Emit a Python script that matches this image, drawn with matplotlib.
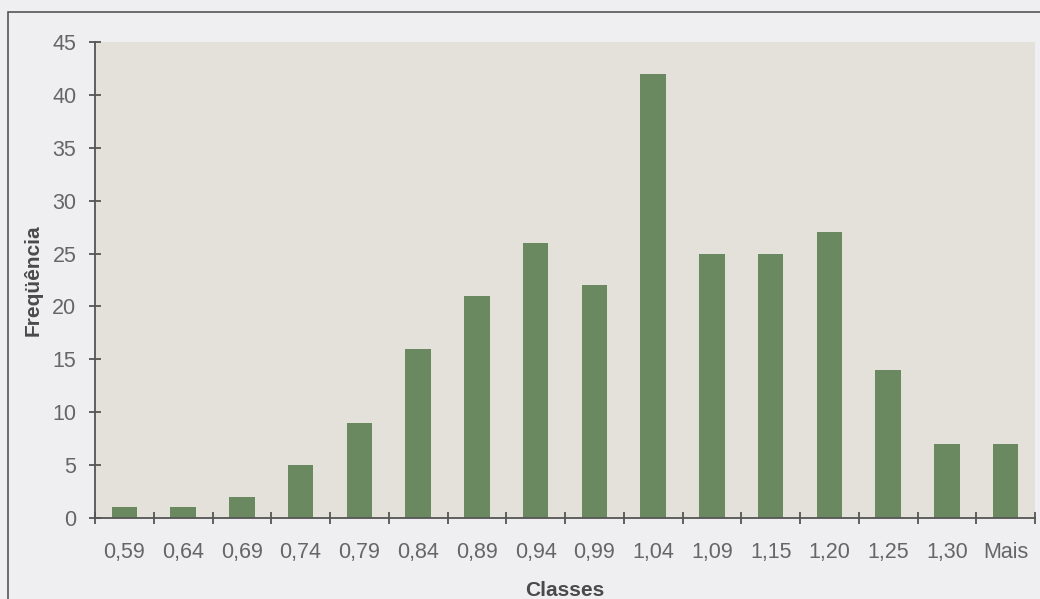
import matplotlib.pyplot as plt
import numpy as np
from matplotlib.patches import Rectangle

# histogram classes and counts (sum = 250)
classes = ['0,59', '0,64', '0,69', '0,74', '0,79', '0,84', '0,89', '0,94',
           '0,99', '1,04', '1,09', '1,15', '1,20', '1,25', '1,30', 'Mais']
freq = [1, 1, 2, 5, 9, 16, 21, 26, 22, 42, 25, 25, 27, 14, 7, 7]

plt.rcParams['font.family'] = ['Liberation Sans', 'DejaVu Sans']

fig = plt.figure(figsize=(10.4, 5.99), dpi=100, facecolor='#efeff1')

# outer chart frame
fig.patches.append(Rectangle((8/1040, -0.05), 1.1, 1.05 - 12/599,
                             transform=fig.transFigure, fill=False,
                             edgecolor='#555555', linewidth=1.2))

ax = fig.add_axes([95/1040, 81/599, 940/1040, 476/599])
ax.set_facecolor('#e3e1d9')

x = np.arange(len(classes))
ax.bar(x, freq, width=0.43, color='#6a8961')

ax.set_xlim(-0.5, len(classes) - 0.5)
ax.set_ylim(0, 45)
ax.set_yticks(np.arange(0, 46, 5))
ax.set_xticks(x)
ax.set_xticklabels(classes)
ax.set_xticks(np.arange(-0.5, len(classes), 1), minor=True)

ax.tick_params(axis='x', which='major', length=0, pad=17,
               labelsize=15.5, labelcolor='#666666')
ax.tick_params(axis='x', which='minor', direction='inout', length=9,
               width=1.3, color='#555555')
ax.tick_params(axis='y', direction='inout', length=9, width=1.3,
               color='#555555', labelsize=15.5, labelcolor='#666666', pad=9)

for s in ['top', 'right']:
    ax.spines[s].set_visible(False)
for s in ['left', 'bottom']:
    ax.spines[s].set_color('#555555')
    ax.spines[s].set_linewidth(1.3)

ax.set_xlabel('Classes', fontsize=15, fontweight='bold', color='#4a4a4a',
              labelpad=13)
ax.set_ylabel('Freqüência', fontsize=15, fontweight='bold', color='#4a4a4a',
              labelpad=7)

plt.savefig('out.png', dpi=100, facecolor=fig.get_facecolor())
